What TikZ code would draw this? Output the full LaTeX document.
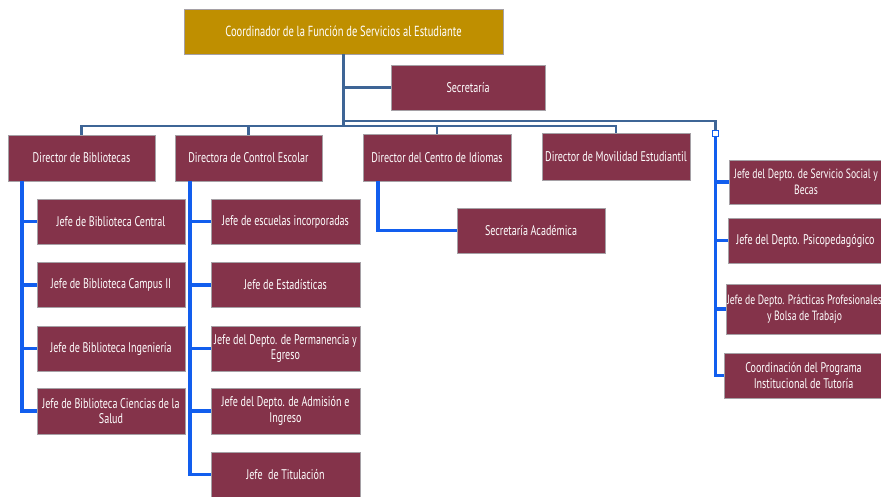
\documentclass[tikz,border=0pt]{standalone}
\usepackage{fontspec}
\setmainfont{PT Sans}[FakeStretch=0.72]
\definecolor{gold}{RGB}{191,143,0}
\definecolor{maroon}{RGB}{132,51,74}
\definecolor{topblue}{RGB}{62,101,150}
\definecolor{subblue}{RGB}{18,94,238}
\definecolor{edge}{RGB}{165,160,165}
\tikzset{
  box/.style={draw=edge, line width=0.7pt, fill=maroon, text=white, align=center, inner sep=1pt,
    font=\fontsize{14}{15.5}\selectfont},
  smallbox/.style={box, font=\fontsize{13.4}{15.5}\selectfont},
  topline/.style={draw=topblue, line width=2.8pt},
  subline/.style={draw=subblue, line width=3.2pt},
  sqnode/.style={draw=subblue, fill=white, line width=0.8pt, minimum size=6pt, inner sep=0pt},
}
\begin{document}
\begin{tikzpicture}[x=1pt,y=-1pt]
\useasboundingbox (0,0) rectangle (881,496);
% nodes
\node[box, fill=gold, minimum width=319pt, minimum height=45pt, font=\fontsize{14.6}{16}\selectfont] (top) at (343.5,31.5) {Coordinador de la Función de Servicios al Estudiante};
\node[box, minimum width=154pt, minimum height=45pt] (sec) at (468,87.5) {Secretaría};
\node[box, minimum width=147pt, minimum height=46pt] (bib) at (81.5,158) {Director de Bibliotecas};
\node[box, minimum width=147pt, minimum height=46pt] (ce) at (248.5,158) {Directora de Control Escolar};
\node[box, minimum width=148pt, minimum height=47pt] (idi) at (437,157.5) {Director del Centro de Idiomas};
\node[box, minimum width=148pt, minimum height=47pt] (mov) at (616,156.5) {Director de Movilidad Estudiantil};
\node[box, minimum width=148pt, minimum height=45pt] (sa) at (531,230.5) {Secretaría Académica};
% bibliotecas
\node[box, minimum width=148pt, minimum height=45pt] (b1) at (111,221.5) {Jefe de Biblioteca Central};
\node[box, minimum width=148pt, minimum height=45pt] (b2) at (111,285) {Jefe de Biblioteca Campus II};
\node[box, minimum width=148pt, minimum height=45pt] (b3) at (111,348.5) {Jefe de Biblioteca Ingeniería};
\node[box, minimum width=148pt, minimum height=46pt] (b4) at (111,411) {Jefe de Biblioteca Ciencias de la\\Salud};
% control escolar
\node[box, minimum width=149pt, minimum height=45pt] (c1) at (285.5,221.5) {Jefe de escuelas incorporadas};
\node[box, minimum width=149pt, minimum height=45pt] (c2) at (285.5,285) {Jefe de Estadísticas};
\node[box, minimum width=149pt, minimum height=45pt] (c3) at (285.5,348.5) {Jefe del Depto. de Permanencia y\\Egreso};
\node[box, minimum width=149pt, minimum height=46pt] (c4) at (285.5,411) {Jefe del Depto. de Admisión e\\Ingreso};
\node[box, minimum width=149pt, minimum height=45pt] (c5) at (285.5,474.5) {Jefe\ \ de Titulación};
% right column
\node[smallbox, minimum width=154pt, minimum height=44pt] (r1) at (806,182) {Jefe del Depto. de Servicio Social y\\Becas};
\node[box, minimum width=155pt, minimum height=45pt] (r2) at (805.5,240.5) {Jefe del Depto. Psicopedagógico};
\node[smallbox, minimum width=157pt, minimum height=50pt] (r3) at (804.5,309) {Jefe de Depto. Prácticas Profesionales\\y Bolsa de Trabajo};
\node[box, minimum width=159pt, minimum height=45pt] (r4) at (803.5,375.5) {Coordinación del Programa\\Institucional de Tutoría};
% junction coordinates
\coordinate (j) at (344,126);
\coordinate (j2) at (344,121);
\node[sqnode] (sq) at (715.5,133) {};
\coordinate (bl) at (22,181);
\coordinate (cl) at (190,181);
\coordinate (il) at (378,181);
% top connectors
\draw[topline] (top.south) -- (top.south |- j);
\draw[topline] (top.south |- sec.west) -- (sec.west);
\draw[topline] (bib.north) -- (bib.north |- j) -- (mov.north |- j) -- (mov.north);
\draw[topline] (ce.north) -- (ce.north |- j);
\draw[topline] (idi.north) -- (idi.north |- j);
\draw[topline] (j2) -| (sq.north);
% sub connectors
\draw[subline] (bl) |- (b4.west);
\foreach \n in {b1,b2,b3} \draw[subline] (bl |- \n.west) -- (\n.west);
\draw[subline] (cl) |- (c5.west);
\foreach \n in {c1,c2,c3,c4} \draw[subline] (cl |- \n.west) -- (\n.west);
\draw[subline] (il) |- (sa.west);
\draw[subline] (sq.south) -- (sq.south |- r4.west) -- (r4.west);
\foreach \n in {r1,r2,r3} \draw[subline] (sq.south |- \n.west) -- (\n.west);
\node[sqnode] at (sq) {};
\end{tikzpicture}
\end{document}
